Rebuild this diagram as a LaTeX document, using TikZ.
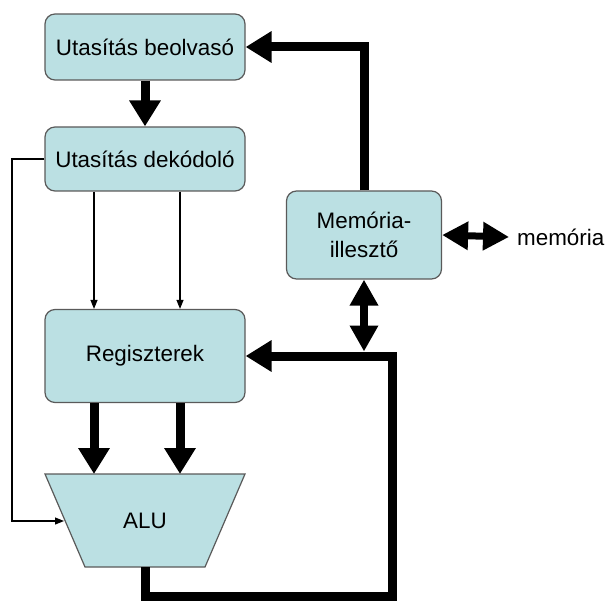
\documentclass[tikz,border=0pt]{standalone}
\usepackage{fontspec}
\setmainfont{Liberation Sans}
\usetikzlibrary{arrows.meta}
\definecolor{boxfill}{HTML}{BBE0E3}
\definecolor{boxline}{HTML}{5A5A5A}

\begin{document}
\begin{tikzpicture}[x=1pt,y=-1pt,
  block/.style={draw=boxline,fill=boxfill,line width=1.2pt,rounded corners=10pt,
    inner sep=0pt,align=center,font=\fontsize{22.4}{29}\selectfont},
  label/.style={inner sep=0pt,font=\fontsize{22.4}{29}\selectfont},
  bus/.style={line width=9pt,miter limit=10},
  bigtip/.style={-{Triangle[width=30pt,length=26pt]}},
  bothtip/.style={{Triangle[width=27pt,length=26pt]}-{Triangle[width=27pt,length=26pt]}},
  signal/.style={line width=1.1pt,-{Triangle[width=7pt,length=9pt]}}]

\useasboundingbox (0,0) rectangle (609,601);

% blocks
\node[block,minimum width=200pt,minimum height=66pt] (fetch) at (145,47) {Utasítás beolvasó};
\node[block,minimum width=200pt,minimum height=64pt] (dec) at (145,159) {Utasítás dekódoló};
\node[block,minimum width=200pt,minimum height=93pt] (reg) at (145,356) {Regiszterek};
\node[block,minimum width=155pt,minimum height=88pt] (mem) at (364,235) {Memória-\\illesztő};
\node[label,anchor=west] (memtxt) at (517,237) {memória};

% ALU as a trapezium
\draw[draw=boxline,fill=boxfill,line width=1.2pt] (45,474) -- (245,474) -- (205,567) -- (85,567) -- cycle;
\node[label] (alu) at (145,521) {ALU};
\coordinate (alutop) at (145,474);
\coordinate (alubot) at (145,567);
\coordinate (alulft) at (64,521);

% column positions
\coordinate (ca) at (94,0);
\coordinate (cb) at (180,0);
\coordinate (cl) at (12,0);
\coordinate (cr) at (392,0);
\coordinate (cbot) at (0,596);

% fetch -> decode
\draw[bus,bigtip] (fetch.south) -- (dec.north);

% memory interface -> fetch
\draw[bus,bigtip] (mem.north) -- (mem.north |- fetch.east) -- (fetch.east);

% memory interface <-> memory
\draw[line width=7pt,bothtip] (mem.east) -- ([xshift=-8pt]memtxt.west);

% decode -> registers
\draw[signal] (dec.south -| ca) -- (reg.north -| ca);
\draw[signal] (dec.south -| cb) -- (reg.north -| cb);

% decode -> ALU control
\draw[signal] (dec.west) -- (cl |- dec.west) -- (cl |- alulft) -- (alulft);

% registers -> ALU
\draw[bus,bigtip] (reg.south -| ca) -- (alutop -| ca);
\draw[bus,bigtip] (reg.south -| cb) -- (alutop -| cb);

% ALU result -> registers
\draw[bus,bigtip] (alubot) -- (alubot |- cbot) -- (cr |- cbot) -- (cr |- reg.east) -- (reg.east);

% memory interface <-> result bus
\draw[line width=8pt,bothtip] (mem.south) -- ([yshift=4.5pt]mem.south |- reg.east);
\end{tikzpicture}
\end{document}
